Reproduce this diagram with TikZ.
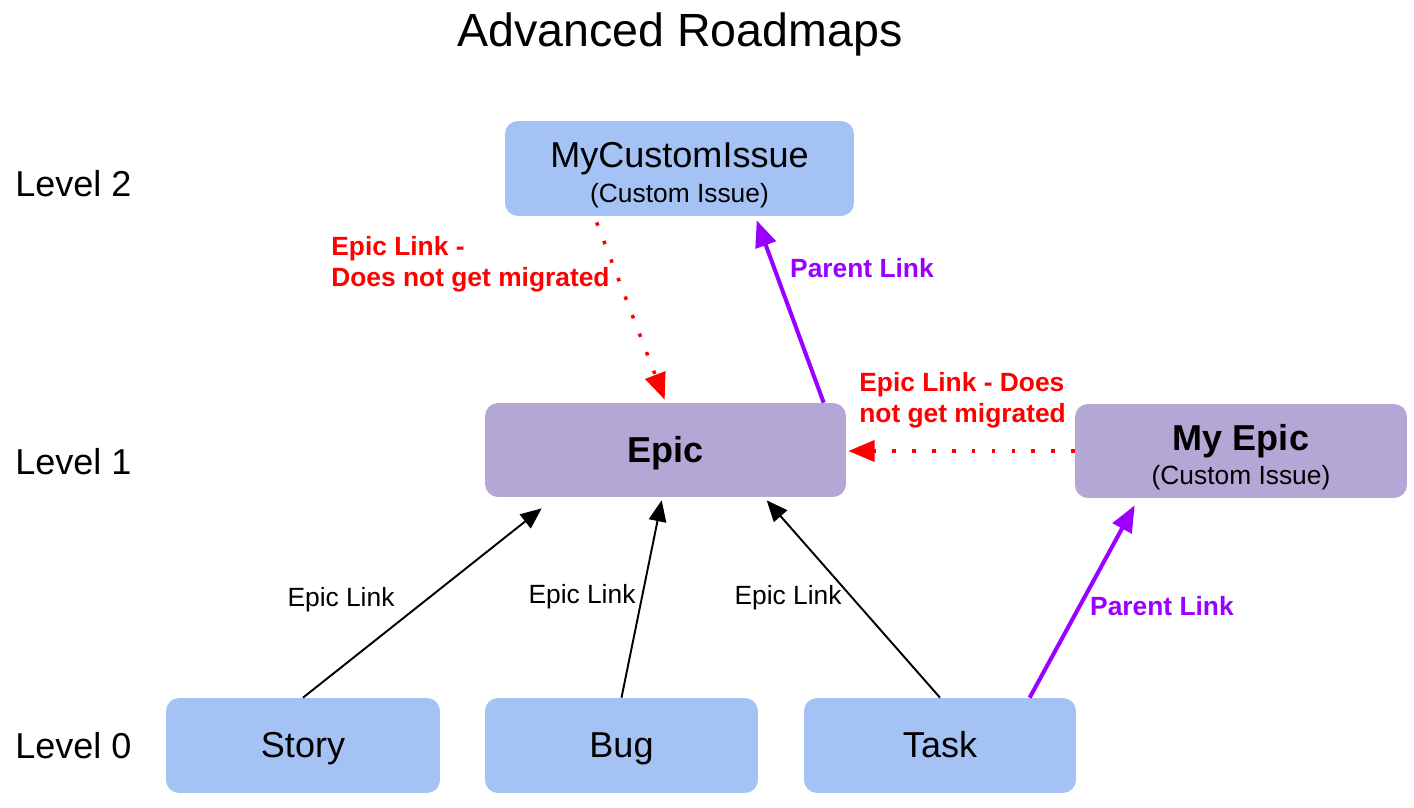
\documentclass[tikz,border=0pt]{standalone}
\usepackage{fontspec}
\setmainfont{Liberation Sans}
\usepackage{tikz}
\usetikzlibrary{positioning,arrows.meta,calc}
\definecolor{issueblue}{HTML}{A4C2F4}
\definecolor{epicpurple}{HTML}{B4A7D6}
\definecolor{linkred}{HTML}{FF0000}
\definecolor{parentviolet}{HTML}{9900FF}

\tikzset{
  issuebox/.style={fill=#1, rounded corners=0.26cm, inner sep=0pt, align=center,
    minimum height=1.9cm, font=\fontsize{20.5}{20.5}\selectfont},
  oneline/.style={text height=18pt, text depth=4pt},
  smalltext/.style={font=\fontsize{15}{17}\selectfont},
  redtext/.style={text=linkred, inner sep=0pt, align=left, font=\fontsize{15}{17.5}\selectfont\bfseries},
  violettext/.style={text=parentviolet, inner sep=0pt, font=\fontsize{15}{17}\selectfont\bfseries},
  epiclink/.style={-{Triangle[length=12pt,width=10pt]}, line width=1.1pt},
  parentlink/.style={-{Triangle[length=15pt,width=12pt]}, parentviolet, line width=2.3pt},
  dotlink/.style={-{Triangle[length=15pt,width=12pt]}, linkred, line width=2pt,
    dash pattern=on 2pt off 9.3pt}
}

\begin{document}
\begin{tikzpicture}[x=0.02cm, y=-0.02cm]
\useasboundingbox (0,0) rectangle (1414,808);

\node[font=\fontsize{26.5}{26.5}\selectfont] (title) at (680,34) {Advanced Roadmaps};

% level labels
\node[anchor=west, inner sep=0pt, font=\fontsize{20.5}{20.5}\selectfont] (lvltwo) at (15,184) {Level 2};
\node[anchor=west, inner sep=0pt, font=\fontsize{20.5}{20.5}\selectfont] (lvlone) at (15,462) {Level 1};
\node[anchor=west, inner sep=0pt, font=\fontsize{20.5}{20.5}\selectfont] (lvlzero) at (15,746) {Level 0};

% issues
\node[issuebox=issueblue, minimum width=6.98cm] (custom) at (679.5,168.5)
  {\rule{0pt}{22pt}MyCustomIssue\\[-1pt]{\fontsize{15}{15}\selectfont (Custom Issue)}};
\node[issuebox=epicpurple, oneline, minimum width=7.22cm, minimum height=1.88cm,
  font=\fontsize{20.5}{20.5}\selectfont\bfseries] (epic) at (665.5,450) {Epic};
\node[issuebox=epicpurple, minimum width=6.64cm, minimum height=1.88cm] (myepic) at (1241,451)
  {\rule{0pt}{22pt}\textbf{My Epic}\\[-1pt]{\fontsize{15}{15}\selectfont (Custom Issue)}};
\node[issuebox=issueblue, oneline, minimum width=5.48cm] (story) at (303,745.5) {Story};
\node[issuebox=issueblue, oneline, minimum width=5.46cm] (bug) at (621.5,745.5) {Bug};
\node[issuebox=issueblue, oneline, minimum width=5.44cm] (task) at (940,745.5) {Task};

% epic links
\draw[epiclink] (story.north) -- ($(epic.south west)+(57,11)$);
\draw[epiclink] (bug.north) -- ($(epic.south west)+(177,3)$);
\draw[epiclink] (task.north) -- ($(epic.south west)+(282,3)$);
\node[smalltext] (lblstory) at (341,600) {Epic Link};
\node[smalltext] (lblbug) at (582,597) {Epic Link};
\node[smalltext] (lbltask) at (788,598) {Epic Link};

% parent links
\draw[parentlink] ($(epic.north west)+(339,0)$) -- ($(custom.south west)+(252,4)$);
\draw[parentlink] ($(task.north west)+(226,0)$) -- ($(myepic.south west)+(60,7)$);
\node[violettext] (lblparentup) at (862,268) {Parent Link};
\node[violettext] (lblparentright) at (1162,606) {Parent Link};

% epic links that are dropped
\draw[dotlink] ($(custom.south west)+(92,6)$) -- ($(epic.north west)+(180,-3)$);
\draw[dotlink] (myepic.west) -- ($(epic.east)+(2,1)$);
\node[redtext, anchor=west] (lbldropup) at (331,264) {Epic Link -\\Does not get migrated};
\node[redtext, anchor=west] (lbldropright) at (859,400) {Epic Link - Does\\not get migrated};

\end{tikzpicture}
\end{document}
